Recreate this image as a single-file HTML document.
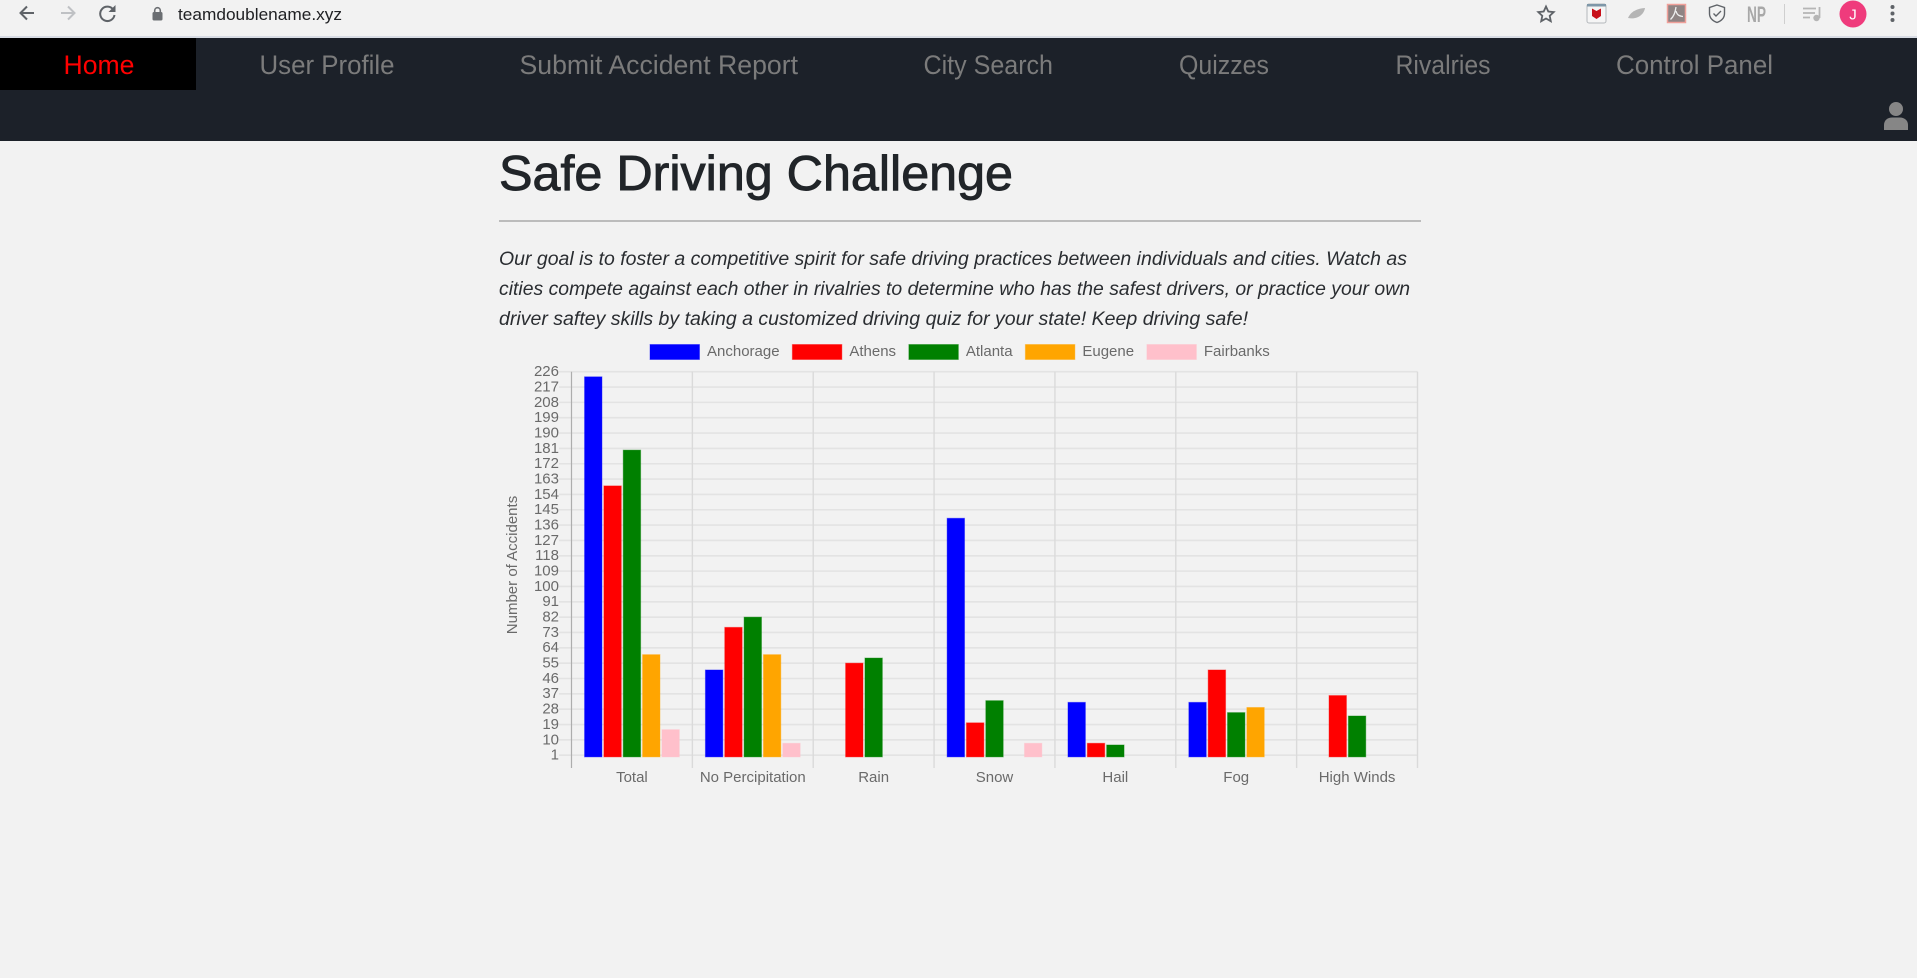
<!DOCTYPE html>
<html lang="en">
<head>
<meta charset="utf-8">
<title>Safe Driving Challenge</title>
<style>
html,body{margin:0;padding:0;width:1917px;height:978px;overflow:hidden;background:#f2f2f2}
svg{display:block}
text{font-family:"Liberation Sans",Arial,sans-serif}
.nav{font-size:26.5px;fill:#7b7b7b}
.para{font-size:19.6px;font-style:italic;fill:#2a2d31}
.tick{font-size:15px;fill:#6a6a6a}
</style>
</head>
<body>
<svg id="page" width="1917" height="978" viewBox="0 0 1917 978">
  <rect x="0" y="0" width="1917" height="978" fill="#f2f2f2"/>

  <g>
    <rect x="0" y="36" width="1917" height="2" fill="#d8dce4"/>
    <path d="M34 13H21M27 6.500L20.500 13L27 19.500" fill="none" stroke="#5f6368" stroke-width="2"/>
    <path d="M61 13H74M68 6.500L74.500 13L68 19.500" fill="none" stroke="#bfc1c4" stroke-width="2"/>
    <path d="M113.500 10A7.200 7.200 0 1 0 114.500 15" fill="none" stroke="#5f6368" stroke-width="2"/>
    <path d="M115.500 5V12H108.500Z" fill="#5f6368"/>
    <rect x="152.500" y="12" width="10" height="8.500" rx="1.500" fill="#6b6e72"/>
    <path d="M154.700 12V10.500A2.800 2.800 0 0 1 160.300 10.500V12" fill="none" stroke="#6b6e72" stroke-width="1.600"/>
    <text x="178" y="20" font-size="17" fill="#202124" textLength="164" lengthAdjust="spacingAndGlyphs">teamdoublename.xyz</text>
    <path d="M1546 6.500L1548.300 11.500L1553.700 12.100L1549.700 15.800L1550.800 21.200L1546 18.500L1541.200 21.200L1542.300 15.800L1538.300 12.100L1543.700 11.500Z" fill="none" stroke="#5f6368" stroke-width="1.800"/>
    <rect x="1587" y="4" width="19" height="19" rx="2" fill="#f5f5f5" stroke="#b4b8bc"/>
    <rect x="1587" y="4" width="19" height="2.500" fill="#7f97a8"/>
    <path d="M1592 8.500L1596.500 11L1601 8.500V16L1596.500 19L1592 16Z" fill="#c8101a"/>
    <path d="M1628 18C1631 11 1638 8.500 1645 8C1644 14 1638 20 1628 18Z" fill="#b5b5b5"/>
    <rect x="1667.500" y="4.500" width="18" height="18" fill="#8f8484" stroke="#f0a09a" stroke-width="1.500"/>
    <path d="M1676 7C1675 13 1674 16 1670.500 19.500M1676 11C1677 15 1679 16 1683 16.500" fill="none" stroke="#eeeeee" stroke-width="1.300"/>
    <path d="M1717 5L1724.500 7.500V13.500C1724.500 18 1721 21 1717 22.500C1713 21 1709.500 18 1709.500 13.500V7.500Z" fill="none" stroke="#5f6368" stroke-width="1.400"/>
    <path d="M1713.500 13.500L1716 16L1721 11" fill="none" stroke="#5f6368" stroke-width="1.400"/>
    <text x="1747" y="22" font-size="22" font-weight="bold" fill="#a8a8a8" textLength="19" lengthAdjust="spacingAndGlyphs">NP</text>
    <rect x="1784" y="4" width="1" height="20" fill="#cfcfcf"/>
    <path d="M1803 8.500H1816M1803 13H1815M1803 17.500H1810" fill="none" stroke="#b5b5b5" stroke-width="1.700"/>
    <path d="M1819.500 7V18" fill="none" stroke="#b5b5b5" stroke-width="1.800"/>
    <circle cx="1816.500" cy="18" r="3.200" fill="#b5b5b5"/>
    <circle cx="1853" cy="14" r="13.500" fill="#ef3b7c"/>
    <text x="1853" y="19.500" font-size="15" fill="#ffffff" text-anchor="middle">J</text>
    <circle cx="1892.500" cy="7" r="2" fill="#5f6368"/>
    <circle cx="1892.500" cy="13.500" r="2" fill="#5f6368"/>
    <circle cx="1892.500" cy="20" r="2" fill="#5f6368"/>
  </g>

  <g>
    <rect x="0" y="38" width="1917" height="103" fill="#1c2129"/>
    <rect x="0" y="38" width="196" height="52" fill="#000000"/>
    <text class="nav" style="fill:#ff0000" x="63.500" y="74" textLength="71" lengthAdjust="spacingAndGlyphs">Home</text>
    <text class="nav" x="259.500" y="74" textLength="135" lengthAdjust="spacingAndGlyphs">User Profile</text>
    <text class="nav" x="519.500" y="74" textLength="278.500" lengthAdjust="spacingAndGlyphs">Submit Accident Report</text>
    <text class="nav" x="923.500" y="74" textLength="129.500" lengthAdjust="spacingAndGlyphs">City Search</text>
    <text class="nav" x="1179" y="74" textLength="90" lengthAdjust="spacingAndGlyphs">Quizzes</text>
    <text class="nav" x="1395.500" y="74" textLength="95" lengthAdjust="spacingAndGlyphs">Rivalries</text>
    <text class="nav" x="1616" y="74" textLength="157" lengthAdjust="spacingAndGlyphs">Control Panel</text>
    <circle cx="1896" cy="109" r="7" fill="#868686"/>
    <path d="M1884 130V125C1884 120 1888 117.500 1892 117.500H1900C1904 117.500 1908 120 1908 125V130Z" fill="#868686"/>
  </g>

  <text x="499" y="190" font-size="49" fill="#212529" stroke="#212529" stroke-width="0.900" textLength="514" lengthAdjust="spacingAndGlyphs">Safe Driving Challenge</text>
  <rect x="499" y="220.500" width="922" height="1" fill="#858585"/>
  <g>
    <text class="para" x="499" y="265" textLength="908" lengthAdjust="spacingAndGlyphs">Our goal is to foster a competitive spirit for safe driving practices between individuals and cities. Watch as</text>
    <text class="para" x="499" y="295" textLength="911" lengthAdjust="spacingAndGlyphs">cities compete against each other in rivalries to determine who has the safest drivers, or practice your own</text>
    <text class="para" x="499" y="325" textLength="749" lengthAdjust="spacingAndGlyphs">driver saftey skills by taking a customized driving quiz for your state! Keep driving safe!</text>
  </g>

  <g id="chart"></g>
</svg>

<script>
// Chart data
const categories = ["Total", "No Percipitation", "Rain", "Snow", "Hail", "Fog", "High Winds"];
const tickLabels = [1, 10, 19, 28, 37, 46, 55, 64, 73, 82, 91, 100, 109, 118, 127, 136, 145, 154, 163, 172, 181, 190, 199, 208, 217, 226];
const seriesNames = ["Anchorage", "Athens", "Atlanta", "Eugene", "Fairbanks"];
const seriesColors = ["#0000ff", "#ff0000", "#008000", "#ffa500", "#ffc0cb"];
const anchorageValues = [223, 51, 0, 140, 32, 32, 0];
const athensValues = [159, 76, 55, 20, 8, 51, 36];
const atlantaValues = [180, 82, 58, 33, 7, 26, 24];
const eugeneValues = [60, 60, 0, 0, 0, 29, 0];
const fairbanksValues = [16, 8, 0, 8, 0, 0, 0];
const seriesValues = [anchorageValues, athensValues, atlantaValues, eugeneValues, fairbanksValues];

const NS = "http://www.w3.org/2000/svg";
const chart = document.getElementById("chart");
const plot = {left: 571.5, right: 1417.5, top: 371.7, bottom: 755.2, tickBottom: 768};

function yScale(v) {
  const lo = tickLabels[0];
  const hi = tickLabels[tickLabels.length - 1];
  return plot.bottom - (v - lo) / (hi - lo) * (plot.bottom - plot.top);
}
function bandWidth() {
  return (plot.right - plot.left) / categories.length;
}
function xBand(i) {
  return plot.left + i * bandWidth();
}
function make(tag, attrs) {
  const el = document.createElementNS(NS, tag);
  for (const k in attrs) el.setAttribute(k, attrs[k]);
  chart.appendChild(el);
  return el;
}

// Horizontal gridlines and y tick labels
tickLabels.forEach(function (t) {
  const y = yScale(t);
  const line = make("line", {x1: 559, x2: plot.right, y1: y, y2: y, stroke: "#e3e3e3", "stroke-width": 1.6});
  
  
  const label = make("text", {x: 559, y: y + 4.4, "text-anchor": "end", "class": "tick"});
  label.textContent = t;
  
  
});

// Vertical gridlines and category labels
for (let i = 0; i <= categories.length; i++) {
  const x = xBand(i);
  const vline = make("line", {x1: x, x2: x, y1: plot.top, y2: plot.tickBottom, stroke: i === 0 ? "#adadad" : "#dadada", "stroke-width": i === 0 ? 1.2 : 1.4});
  
  
}
categories.forEach(function (c, i) {
  const label = make("text", {x: xBand(i) + bandWidth() / 2, y: 782, "text-anchor": "middle", "class": "tick"});
  label.textContent = c;
  
  
});

// Bars
const slotWidth = bandWidth() * 0.8 / seriesNames.length;
const barWidth = slotWidth * 0.9;
seriesValues.forEach(function (values, s) {
  values.forEach(function (v, i) {
    if (!v) return;
    const groupLeft = xBand(i) + bandWidth() * 0.1;
    const x = groupLeft + slotWidth * s + (slotWidth - barWidth) / 2;
    const top = yScale(v);
    const bar = make("rect", {x: x, y: top, width: barWidth, height: yScale(0) - top, fill: seriesColors[s], stroke: seriesColors[s], "stroke-opacity": 0.4, "stroke-width": 1});
    
    
  });
});

// Y axis title
const yTitle = make("text", {x: 0, y: 0, "text-anchor": "middle", "class": "tick", transform: "translate(517 565) rotate(-90)"});
yTitle.textContent = "Number of Accidents";



// Legend
let legendX = 650;
seriesNames.forEach(function (name, s) {
  const box = make("rect", {x: legendX, y: 344.5, width: 49.5, height: 15, fill: seriesColors[s], stroke: seriesColors[s], "stroke-opacity": 0.4, "stroke-width": 1});
  
  
  const label = make("text", {x: legendX + 57, y: 356, "class": "tick"});
  label.textContent = name;
  
  
  legendX += 57 + label.getComputedTextLength() + 12.8;
});
</script>
</body>
</html>
